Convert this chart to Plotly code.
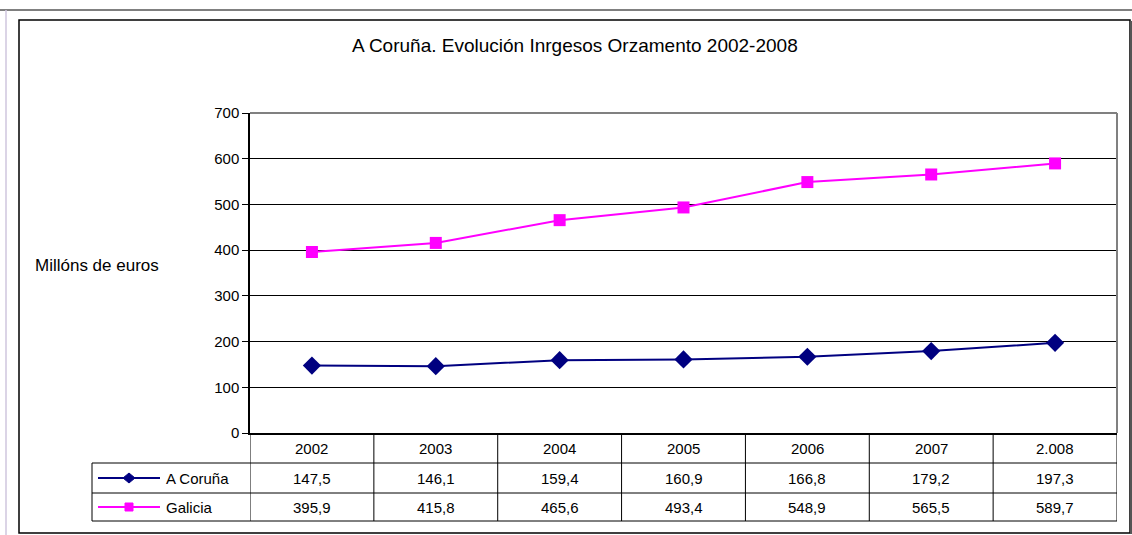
import plotly.graph_objects as go

years = ["2002", "2003", "2004", "2005", "2006", "2007", "2.008"]
coruna = [147.5, 146.1, 159.4, 160.9, 166.8, 179.2, 197.3]
galicia = [395.9, 415.8, 465.6, 493.4, 548.9, 565.5, 589.7]
series_names = ["A Coruña", "Galicia"]
series_colors = ["#000080", "#FF00FF"]
yticks = [0, 100, 200, 300, 400, 500, 600, 700]

W, H = 1132, 535
L, R, T, B = 250, 1117, 113, 433
pw, ph = R - L, B - T


def px(x):
    return (x - L) / pw


def py(y):
    return (B - y) / ph


fig = go.Figure()
fig.add_trace(go.Scatter(x=years, y=coruna, mode="lines+markers", name=series_names[0],
                         line=dict(color=series_colors[0], width=2),
                         marker=dict(symbol="diamond", size=14, color=series_colors[0])))
fig.add_trace(go.Scatter(x=years, y=galicia, mode="lines+markers", name=series_names[1],
                         line=dict(color=series_colors[1], width=2),
                         marker=dict(symbol="square", size=12, color=series_colors[1])))

shapes = []
ann = []
line_c = "#000000"

# page frame
shapes.append(dict(type="line", xref="paper", yref="paper", x0=px(0), x1=px(W), y0=py(10), y1=py(10),
                   line=dict(color="#000000", width=1)))
shapes.append(dict(type="line", xref="paper", yref="paper", x0=px(6), x1=px(6), y0=py(10), y1=py(H),
                   line=dict(color="#cfc6de", width=1.5)))
shapes.append(dict(type="rect", xref="paper", yref="paper", x0=px(19), x1=px(1130), y0=py(20), y1=py(533),
                   line=dict(color="#000000", width=1.5)))
shapes.append(dict(type="line", xref="paper", yref="paper", x0=px(1131), x1=px(1131), y0=py(21), y1=py(534),
                   line=dict(color="#555555", width=2)))

# plot area borders
shapes.append(dict(type="line", xref="paper", yref="paper", x0=0, x1=1, y0=1, y1=1,
                   line=dict(color="#808080", width=2)))
shapes.append(dict(type="line", xref="paper", yref="paper", x0=1, x1=1, y0=0, y1=1,
                   line=dict(color="#808080", width=2)))

# table
ty_head, ty_r1, ty_r2 = 463, 493, 521
for k in range(len(years) + 1):
    shapes.append(dict(type="line", xref="x", yref="paper", x0=k - 0.5, x1=k - 0.5,
                       y0=py(B), y1=py(ty_r2), line=dict(color=line_c, width=1)))
for yy in (ty_head, ty_r1, ty_r2):
    shapes.append(dict(type="line", xref="paper", yref="paper", x0=px(92), x1=1,
                       y0=py(yy), y1=py(yy), line=dict(color=line_c, width=1)))
shapes.append(dict(type="line", xref="paper", yref="paper", x0=px(92), x1=px(92),
                   y0=py(ty_head), y1=py(ty_r2), line=dict(color=line_c, width=1)))

font_t = dict(family="Liberation Sans, Arial", size=15, color="#000000")
for i, yr in enumerate(years):
    ann.append(dict(x=i, y=py(448), xref="x", yref="paper", text=yr, showarrow=False,
                    yanchor="middle", font=font_t))
for row_y, vals in ((478, coruna), (507, galicia)):
    for i, v in enumerate(vals):
        ann.append(dict(x=i, y=py(row_y), xref="x", yref="paper", yanchor="middle",
                        text=f"{v:.1f}".replace(".", ","), showarrow=False, font=font_t))

# legend keys in table
for row_y, name, col, sym in ((478, series_names[0], series_colors[0], "diamond"),
                              (507, series_names[1], series_colors[1], "square")):
    shapes.append(dict(type="line", xref="paper", yref="paper", x0=px(98), x1=px(160),
                       y0=py(row_y), y1=py(row_y), line=dict(color=col, width=2)))
    cx, cy = 129, row_y
    if sym == "diamond":
        path = (f"M {px(cx-6)},{py(cy)} L {px(cx)},{py(cy-5)} L {px(cx+6)},{py(cy)} "
                f"L {px(cx)},{py(cy+5)} Z")
    else:
        path = (f"M {px(cx-4)},{py(cy-4)} L {px(cx+4)},{py(cy-4)} L {px(cx+4)},{py(cy+4)} "
                f"L {px(cx-4)},{py(cy+4)} Z")
    shapes.append(dict(type="path", xref="paper", yref="paper", path=path,
                       fillcolor=col, line=dict(color=col, width=1)))
    ann.append(dict(x=px(164), y=py(row_y), xref="paper", yref="paper", text=name,
                    showarrow=False, xanchor="left", yanchor="middle", font=font_t))

# title and y label
ann.append(dict(x=px(575), y=py(45), xref="paper", yref="paper", yanchor="middle",
                text="A Coruña. Evolución Inrgesos Orzamento 2002-2008", showarrow=False,
                font=dict(family="Liberation Sans, Arial", size=19, color="#000000")))
ann.append(dict(x=px(161), y=py(265), xref="paper", yref="paper", text="Millóns de euros",
                showarrow=False, xanchor="right", yanchor="middle",
                font=dict(family="Liberation Sans Narrow, Arial Narrow, Liberation Sans",
                          size=17, color="#000000")))

fig.update_layout(
    width=W, height=H,
    margin=dict(l=L, r=W - R, t=T, b=H - B),
    paper_bgcolor="white", plot_bgcolor="white",
    showlegend=False,
    shapes=shapes, annotations=ann,
    xaxis=dict(type="category", range=[-0.5, len(years) - 0.5], showticklabels=False,
               showgrid=False, zeroline=False, showline=True, linecolor="#000000", linewidth=2,
               ticks=""),
    yaxis=dict(range=[0, 700], tickvals=yticks, showgrid=True, gridcolor="#000000", gridwidth=1,
               zeroline=False, showline=True, linecolor="#000000", linewidth=1.5,
               ticks="outside", ticklen=6, tickcolor="#000000",
               tickfont=dict(family="Liberation Sans, Arial", size=15, color="#000000")),
)

fig.write_html("out.html", config={"displayModeBar": False},
               post_script="document.body.style.margin='0';document.body.style.overflow='hidden';")
